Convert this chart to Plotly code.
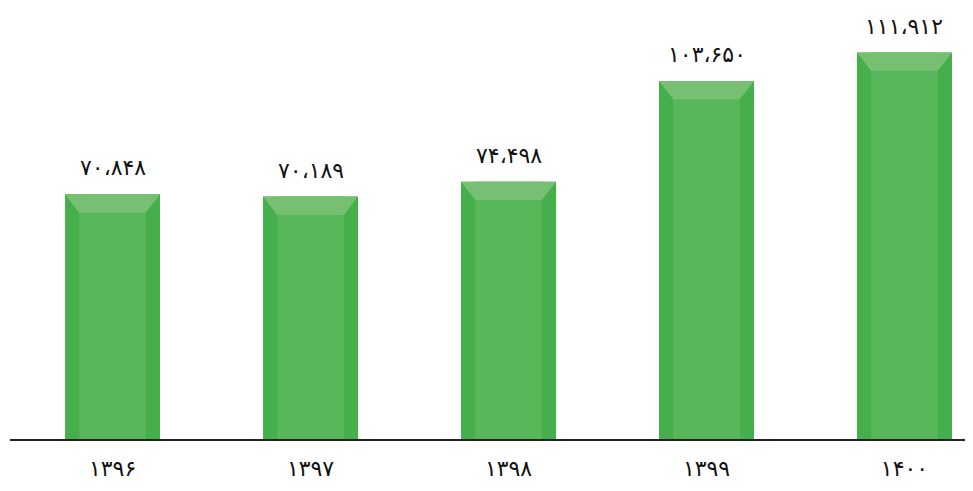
import plotly.graph_objects as go

years = ["۱۳۹۶", "۱۳۹۷", "۱۳۹۸", "۱۳۹۹", "۱۴۰۰"]
values = [70848, 70189, 74498, 103650, 111912]
value_labels = ["۷۰،۸۴۸", "۷۰،۱۸۹", "۷۴،۴۹۸", "۱۰۳،۶۵۰", "۱۱۱،۹۱۲"]

xs = list(range(len(years)))
BAR_W = 0.48
SIDE = 0.072
TOP_H = 5300

SIDE_COLOR = "#45b04b"
MID_COLOR = "#58b75a"
TOP_COLOR = "#77c073"
FONT = "DejaVu Sans"

fig = go.Figure()
fig.add_trace(go.Bar(x=xs, y=values, width=BAR_W, marker=dict(color=SIDE_COLOR, line=dict(width=0)),
                     hoverinfo="skip", showlegend=False))
fig.add_trace(go.Bar(x=xs, y=values, width=BAR_W - 2 * SIDE, marker=dict(color=MID_COLOR, line=dict(width=0)),
                     hoverinfo="skip", showlegend=False))

px, py = [], []
for x, v in zip(xs, values):
    l, r = x - BAR_W / 2, x + BAR_W / 2
    px += [l, r, r - SIDE, l + SIDE, l, None]
    py += [v, v, v - TOP_H, v - TOP_H, v, None]
fig.add_trace(go.Scatter(x=px, y=py, mode="lines", fill="toself", fillcolor=TOP_COLOR,
                         line=dict(width=0, color=TOP_COLOR), hoverinfo="skip", showlegend=False))

for x, v, t in zip(xs, values, value_labels):
    fig.add_annotation(x=x, y=v, text=t, showarrow=False, yanchor="bottom", yshift=12,
                       font=dict(family=FONT, size=22, color="#111"))

fig.update_layout(
    width=965, height=483,
    margin=dict(l=2, r=1, t=0, b=52),
    paper_bgcolor="white", plot_bgcolor="white",
    barmode="overlay",
    xaxis=dict(range=[-0.518, 4.341], tickvals=xs, ticktext=years, showgrid=False, zeroline=False,
               showline=True, linecolor="#222", linewidth=2, ticks="", ticklabelstandoff=9,
               tickfont=dict(family=FONT, size=22, color="#111"), fixedrange=True),
    yaxis=dict(range=[0, 124800], visible=False, fixedrange=True),
)

fig.write_html("out.html")
